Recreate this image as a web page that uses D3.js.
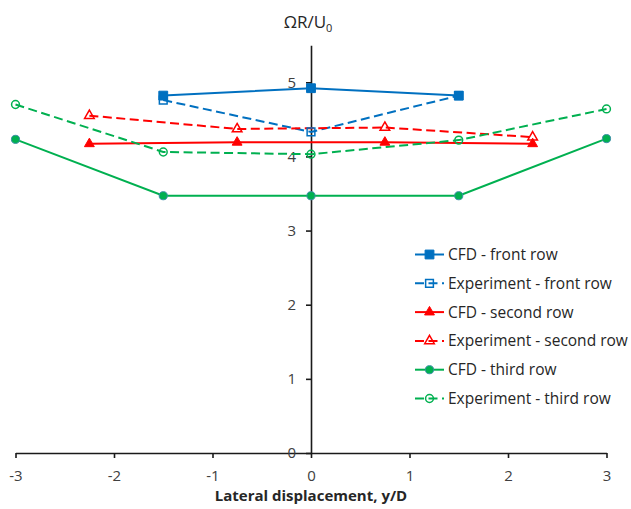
<!DOCTYPE html>
<html lang="en">
<head>
  <meta charset="UTF-8">
  <title>Rotation rate vs lateral displacement</title>
  <style>
    body { margin: 0; background: #fff; }
    svg { display: block; font-family: "Open Sans", sans-serif; }
  </style>
</head>
<body>
  <script src="https://cdn.jsdelivr.net/npm/d3@7"></script>
  <script>
    // values
    const xFront = [-1.5, 0, 1.5];
    const xSecond = [-2.25, -0.75, 0.75, 2.25];
    const xThird = [-3, -1.5, 0, 1.5, 3];

    const cfdFront = [4.82, 4.92, 4.82];
    const expFront = [4.76, 4.33, 4.82];
    const cfdSecond = [4.17, 4.19, 4.19, 4.17];
    const expSecond = [4.55, 4.37, 4.39, 4.26];
    const cfdThird = [4.23, 3.47, 3.47, 3.47, 4.24];
    const expThird = [4.70, 4.06, 4.03, 4.22, 4.64];

    const xTicks = [-3, -2, -1, 0, 1, 2, 3];
    const yTicks = [0, 1, 2, 3, 4, 5];

    const width = 631, height = 509;
    const blue = '#0070C0', red = '#FF0000', green = '#00B050';

    const series = [
      { name: 'CFD - front row', xs: xFront, ys: cfdFront, color: blue, dashed: false, shape: d3.symbolSquare, size: 78, filled: true },
      { name: 'Experiment - front row', xs: xFront, ys: expFront, color: blue, dashed: true, shape: d3.symbolSquare, size: 60, filled: false },
      { name: 'CFD - second row', xs: xSecond, ys: cfdSecond, color: red, dashed: false, shape: d3.symbolTriangle, size: 42, filled: true },
      { name: 'Experiment - second row', xs: xSecond, ys: expSecond, color: red, dashed: true, shape: d3.symbolTriangle, size: 40, filled: false },
      { name: 'CFD - third row', xs: xThird, ys: cfdThird, color: green, dashed: false, shape: d3.symbolCircle, size: 52, filled: true },
      { name: 'Experiment - third row', xs: xThird, ys: expThird, color: green, dashed: true, shape: d3.symbolCircle, size: 48, filled: false }
    ];

    const x = d3.scaleLinear().domain([-3, 3]).range([15.5, 606.5]);
    const y = d3.scaleLinear().domain([0, 5.5]).range([453, 45.2]);

    const svg = d3.select('body').append('svg').attr('width', width).attr('height', height);

    // axes
    const xAxis = svg.append('g').attr('transform', `translate(0,${y(0)})`)
      .call(d3.axisBottom(x).tickValues(xTicks).tickSize(5).tickSizeOuter(0).tickPadding(12).tickFormat(d3.format('d')));
    const yAxis = svg.append('g').attr('transform', `translate(${x(0)},0)`)
      .call(d3.axisLeft(y).tickValues(yTicks).tickSize(5).tickSizeOuter(0).tickPadding(10).tickFormat(d3.format('d')));

    [xAxis, yAxis].forEach(g => {
      g.select('.domain').attr('stroke', '#1a1a1a').attr('stroke-width', 1.6);
      g.selectAll('.tick line').attr('stroke', '#1a1a1a').attr('stroke-width', 1.6);
      g.selectAll('.tick text').attr('fill', '#404040').style('font-size', '15px').style('font-family', '"Open Sans", sans-serif');
    });
    // plain hyphen for negatives, like the original
    xAxis.selectAll('.tick text').text(d => String(d));

    // titles
    const yTitle = svg.append('text').attr('x', 308).attr('y', 28)
      .attr('text-anchor', 'middle').attr('fill', '#262626').style('font-size', '17px');
    yTitle.append('tspan').text('ΩR/U');
    yTitle.append('tspan').attr('dy', 4).style('font-size', '11px').text('0');

    svg.append('text').attr('x', x(0)).attr('y', 500.5)
      .attr('text-anchor', 'middle').attr('fill', '#262626')
      .style('font-size', '15px').style('font-weight', 'bold')
      .text('Lateral displacement, y/D');

    // lines + markers
    const line = d3.line().x(d => x(d[0])).y(d => y(d[1]));

    series.forEach(s => {
      const pts = s.xs.map((v, i) => [v, s.ys[i]]);
      svg.append('path').datum(pts)
        .attr('d', line)
        .attr('fill', 'none')
        .attr('stroke', s.color)
        .attr('stroke-width', 2)
        .attr('stroke-dasharray', s.dashed ? '9,4.5' : null);
    });

    function drawMarker(g, s, cx, cy) {
      g.append('path')
        .attr('d', d3.symbol().type(s.shape).size(s.size)())
        .attr('transform', `translate(${cx},${cy})`)
        .attr('fill', s.filled ? s.color : 'none')
        .attr('stroke', s.filled && s.shape === d3.symbolCircle ? '#3b8fa6' : s.color)
        .attr('stroke-width', s.filled ? 1 : 1.5);
    }

    series.forEach(s => {
      const g = svg.append('g');
      s.xs.forEach((v, i) => drawMarker(g, s, x(v), y(s.ys[i])));
    });

    // legend
    const legend = svg.append('g');
    series.forEach((s, i) => {
      const ly = 254.5 + i * 28.8;
      legend.append('line')
        .attr('x1', 415).attr('x2', 444).attr('y1', ly).attr('y2', ly)
        .attr('stroke', s.color).attr('stroke-width', 2)
        .attr('stroke-dasharray', s.dashed ? '9,4.5' : null);
      drawMarker(legend, s, 429.5, ly);
      legend.append('text')
        .attr('x', 448).attr('y', ly + 5.5)
        .attr('fill', '#262626')
        .style('font-size', '15.5px')
        .text(s.name);
    });
  </script>
</body>
</html>
